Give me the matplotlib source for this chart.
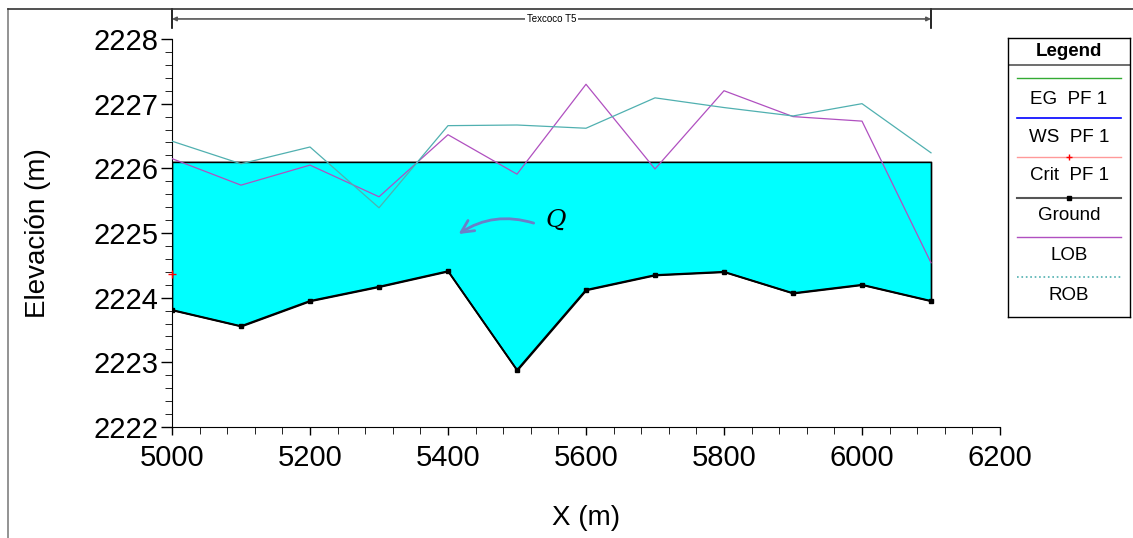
import matplotlib.pyplot as plt
import numpy as np
from matplotlib.lines import Line2D
from matplotlib.ticker import MultipleLocator

plt.rcParams['font.family'] = ['Liberation Sans', 'DejaVu Sans']
plt.rcParams['mathtext.fontset'] = 'dejavuserif'

# datos de la sección
estacion = [5000, 5100, 5200, 5300, 5400, 5500, 5600, 5700, 5800, 5900, 6000, 6100]
terreno = [2223.81, 2223.56, 2223.95, 2224.17, 2224.41, 2222.88,
           2224.12, 2224.35, 2224.40, 2224.07, 2224.20, 2223.95]
lob = [2226.15, 2225.74, 2226.05, 2225.56, 2226.52, 2225.91,
       2227.30, 2225.99, 2227.20, 2226.80, 2226.73, 2224.54]
rob = [2226.42, 2226.07, 2226.33, 2225.39, 2226.66, 2226.67,
       2226.62, 2227.09, 2226.94, 2226.81, 2227.00, 2226.24]
ws = 2226.10
crit_x, crit_y = 5000, 2224.37
titulo = "Texcoco T5"
leyenda = ["EG  PF 1", "WS  PF 1", "Crit  PF 1", "Ground", "LOB", "ROB"]

c_lob = '#b050c0'
c_rob = '#50b0b0'

fig = plt.figure(figsize=(11.33, 5.38), dpi=100)
ax = fig.add_axes([172/1133, 1-427/538, 828/1133, 388/538])

x = np.array(estacion)
ax.fill_between(x, terreno, ws, facecolor='#00ffff', edgecolor='black', linewidth=1.2, zorder=1)
ax.plot(x, lob, color=c_lob, lw=0.9, zorder=3)
ax.plot(x, rob, color=c_rob, lw=0.9, zorder=3)
ax.plot(x, terreno, color='black', lw=1.3, marker='s', ms=3.5, zorder=4)
ax.plot([crit_x], [crit_y], marker='+', color='red', ms=6, mew=1, clip_on=False, zorder=5)

ax.set_xlim(5000, 6200)
ax.set_ylim(2222, 2228)
ax.xaxis.set_major_locator(MultipleLocator(200))
ax.xaxis.set_minor_locator(MultipleLocator(40))
ax.yaxis.set_major_locator(MultipleLocator(1))
ax.yaxis.set_minor_locator(MultipleLocator(0.2))
ax.spines['top'].set_visible(False)
ax.spines['right'].set_visible(False)
ax.tick_params(axis='both', which='major', labelsize=21, direction='out', width=1)
ax.tick_params(axis='y', which='major', length=8, pad=2)
ax.tick_params(axis='y', which='minor', length=5)
ax.tick_params(axis='x', which='major', length=6, pad=6)
ax.tick_params(axis='x', which='minor', length=5)
ax.set_xlabel("X (m)", fontsize=20, labelpad=24)
ax.set_ylabel("Elevación (m)", fontsize=20, labelpad=30)

# barra superior del tramo
yb = 2228.31
ax.annotate('', xy=(estacion[0], yb), xytext=(estacion[-1], yb),
            arrowprops=dict(arrowstyle='<|-|>', color='#555555', lw=1.2,
                            mutation_scale=6, shrinkA=0, shrinkB=0),
            annotation_clip=False)
for xv in (estacion[0], estacion[-1]):
    ax.plot([xv, xv], [2228.17, 2228.46], color='black', lw=1.2, clip_on=False)
ax.text((estacion[0] + estacion[-1]) / 2, yb, titulo, fontsize=7, ha='center', va='center',
        bbox=dict(facecolor='white', edgecolor='none', pad=1.5), clip_on=False)

# anotación del caudal
ax.annotate('', xy=(5412, 2224.96), xytext=(5528, 2225.14),
            arrowprops=dict(arrowstyle='->', color='#6a80c8', lw=2,
                            mutation_scale=22, connectionstyle='arc3,rad=0.25'))
ax.text(5557, 2225.2, '$Q$', fontsize=18, ha='center', va='center')

# marco exterior
fig.add_artist(Line2D([8/1133, 8/1133], [0, 1-9/538], transform=fig.transFigure, color='#808080', lw=1.2))
fig.add_artist(Line2D([8/1133, 1], [1-9/538, 1-9/538], transform=fig.transFigure, color='#333333', lw=1.2))

# leyenda
lg = fig.add_axes([1008/1133, 1-317/538, 122/1133, 279/538])
lg.set_xlim(0, 122)
lg.set_ylim(279, 0)
lg.set_xticks([])
lg.set_yticks([])
for s in lg.spines.values():
    s.set_linewidth(1)
lg.text(61, 14, "Legend", fontsize=13.5, fontweight='bold', ha='center', va='center')
lg.axhline(27, color='#555555', lw=1.2)
lineas_y = [40, 80, 119, 160, 199, 239]
textos_y = [61, 99, 137, 177, 217, 257]
estilos = [dict(color='#33aa33', lw=1), dict(color='#0000ff', lw=1.2),
           dict(color='#ff9999', lw=1), dict(color='#555555', lw=1.5),
           dict(color=c_lob, lw=1), dict(color=c_rob, lw=1.2, ls=':')]
for ly, ty, lab, st in zip(lineas_y, textos_y, leyenda, estilos):
    lg.plot([9, 113], [ly, ly], **st)
    lg.text(61, ty, lab, fontsize=13.5, ha='center', va='center')
lg.plot([61], [119], marker='+', color='red', ms=4)
lg.plot([61], [160], marker='s', color='black', ms=3.5)

fig.savefig("out.png", dpi=100)
